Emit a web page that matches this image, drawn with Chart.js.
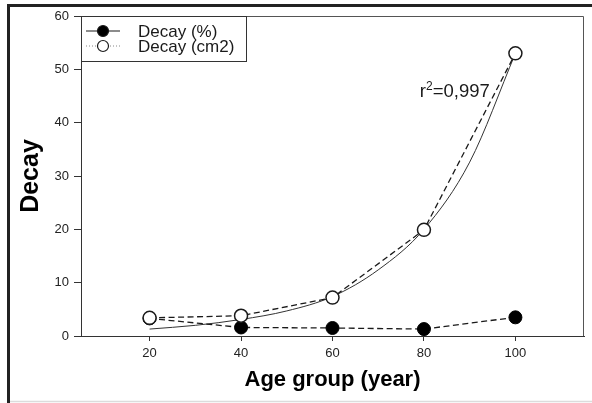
<!DOCTYPE html>
<html>
<head>
<meta charset="utf-8">
<title>Decay by age group</title>
<script src="https://cdn.jsdelivr.net/npm/chart.js@4.4.1/dist/chart.umd.min.js"></script>
<style>
  html, body { margin: 0; padding: 0; background: #fff; }
  #wrap { width: 592px; height: 403px; }
</style>
</head>
<body>
<div id="wrap"><canvas id="c" width="592" height="403"></canvas></div>
<script>
// Age groups (years)
const ageGroups = [20, 40, 60, 80, 100];
// Decay expressed as percentage
const decayPercent = [3.3, 1.6, 1.5, 1.3, 3.5];
// Decay expressed as area (cm2)
const decayArea = [3.4, 3.8, 7.2, 19.9, 53.0];
// Fitted regression curve through the area series
const fitAges = [20, 30, 40, 50, 60, 70, 80, 90, 100];
const fitValues = [1.3, 2.0, 3.1, 4.7, 7.4, 12.4, 20.0, 32.6, 53.0];
const fitLabel = 'r²=0,997';
// Axis ticks
const xTicks = [20, 40, 60, 80, 100];
const yTicks = [0, 10, 20, 30, 40, 50, 60];

const toPoints = (xs, ys) => xs.map((x, i) => ({ x: x, y: ys[i] }));

const INK = '#1a1a1a';
const FONT = "'Liberation Sans', Arial, Helvetica, sans-serif";

// Outer frame, plot box, legend box and the r² annotation
const decorations = {
  id: 'decorations',
  beforeDraw(chart) {
    const ctx = chart.ctx;
    ctx.save();
    ctx.fillStyle = '#fff';
    ctx.fillRect(0, 0, chart.width, chart.height);
    // outer frame
    ctx.strokeStyle = '#222';
    ctx.lineWidth = 3;
    ctx.beginPath();
    ctx.moveTo(8.5, 403);
    ctx.lineTo(8.5, 5.5);
    ctx.lineTo(592, 5.5);
    ctx.stroke();
    ctx.strokeStyle = '#dcdcdc';
    ctx.lineWidth = 1.5;
    ctx.beginPath();
    ctx.moveTo(10, 401.5);
    ctx.lineTo(592, 401.5);
    ctx.stroke();
    ctx.restore();
  },
  afterDraw(chart) {
    const ctx = chart.ctx;
    const a = chart.chartArea;
    ctx.save();
    // top and right sides of the plot box
    ctx.strokeStyle = '#555';
    ctx.lineWidth = 1;
    ctx.beginPath();
    ctx.moveTo(a.left, a.top + 0.5);
    ctx.lineTo(a.right - 0.5, a.top + 0.5);
    ctx.lineTo(a.right - 0.5, a.bottom);
    ctx.stroke();

    // legend
    const lx = a.left, ly = a.top, lw = 166, lh = 46;
    ctx.fillStyle = '#fff';
    ctx.fillRect(lx, ly, lw, lh);
    ctx.strokeStyle = '#333';
    ctx.strokeRect(lx + 0.5, ly + 0.5, lw - 1, lh - 1);
    const rows = [
      { ds: chart.data.datasets[1], y: ly + 15, dash: [], lineColor: INK, lw: 1.2 },
      { ds: chart.data.datasets[0], y: ly + 30, dash: [1, 2], lineColor: '#888', lw: 1 }
    ];
    rows.forEach(r => {
      ctx.setLineDash(r.dash);
      ctx.strokeStyle = r.lineColor;
      ctx.lineWidth = r.lw;
      ctx.beginPath();
      ctx.moveTo(lx + 5, r.y);
      ctx.lineTo(lx + 39, r.y);
      ctx.stroke();
      ctx.setLineDash([]);
      ctx.beginPath();
      ctx.arc(lx + 22, r.y, 5.5, 0, Math.PI * 2);
      ctx.fillStyle = r.ds.pointBackgroundColor;
      ctx.fill();
      ctx.strokeStyle = INK;
      ctx.lineWidth = 1.2;
      ctx.stroke();
      ctx.fillStyle = INK;
      ctx.font = '17px ' + FONT;
      ctx.textBaseline = 'middle';
      ctx.textAlign = 'left';
      ctx.fillText(r.ds.label, lx + 57, r.y + 1.5);
    });

    // r² annotation next to the fitted curve
    const xs = chart.scales.x, ys = chart.scales.y;
    let tx = xs.getPixelForValue(79.1);
    const ty = ys.getPixelForValue(45.7);
    ctx.fillStyle = INK;
    ctx.textBaseline = 'middle';
    ctx.textAlign = 'left';
    ctx.font = '18.5px ' + FONT;
    ctx.fillText('r', tx, ty);
    tx += ctx.measureText('r').width;
    ctx.font = '12px ' + FONT;
    ctx.fillText('2', tx, ty - 6);
    tx += ctx.measureText('2').width;
    ctx.font = '18.5px ' + FONT;
    ctx.fillText(fitLabel.slice(2), tx, ty);
    ctx.restore();
  }
};

new Chart(document.getElementById('c'), {
  type: 'line',
  data: {
    datasets: [
      {
        label: 'Decay (cm2)',
        data: toPoints(ageGroups, decayArea),
        borderColor: INK,
        borderWidth: 1.3,
        borderDash: [6, 3.5],
        pointRadius: 6.5,
        pointBorderWidth: 1.5,
        pointBackgroundColor: '#ffffff',
        pointBorderColor: INK,
        fill: false,
        tension: 0,
        order: 0
      },
      {
        label: 'Decay (%)',
        data: toPoints(ageGroups, decayPercent),
        borderColor: INK,
        borderWidth: 1.3,
        borderDash: [6, 3.5],
        pointRadius: 6.5,
        pointBorderWidth: 1,
        pointBackgroundColor: '#000000',
        pointBorderColor: '#000000',
        fill: false,
        tension: 0,
        order: 1
      },
      {
        label: 'Fit',
        data: toPoints(fitAges, fitValues),
        borderColor: '#333',
        borderWidth: 1,
        pointRadius: 0,
        fill: false,
        cubicInterpolationMode: 'monotone',
        order: 2
      }
    ]
  },
  options: {
    responsive: false,
    animation: false,
    events: [],
    layout: { padding: { left: 0, right: 7, top: 16, bottom: 0 } },
    plugins: {
      legend: { display: false },
      tooltip: { enabled: false }
    },
    scales: {
      x: {
        type: 'linear',
        min: 5,
        max: 115,
        afterFit(s) { s.height = 67; },
        afterBuildTicks(s) { s.ticks = xTicks.map(v => ({ value: v })); },
        grid: { drawOnChartArea: false, drawTicks: true, tickLength: 5, color: '#333' },
        border: { display: true, color: '#333', width: 1 },
        ticks: { padding: 5, color: '#222', font: { family: FONT, size: 13 }, maxRotation: 0 },
        title: {
          display: true,
          text: 'Age group (year)',
          color: '#000',
          font: { family: FONT, size: 22, weight: 'bold', lineHeight: 1 },
          padding: { top: 0, bottom: 12 }
        }
      },
      y: {
        min: 0,
        max: 60,
        afterFit(s) { s.width = 81; },
        afterBuildTicks(s) { s.ticks = yTicks.map(v => ({ value: v })); },
        grid: { drawOnChartArea: false, drawTicks: true, tickLength: 7, color: '#333' },
        border: { display: true, color: '#333', width: 1 },
        ticks: { padding: 5, color: '#222', font: { family: FONT, size: 13 } },
        title: {
          display: true,
          text: 'Decay',
          color: '#000',
          font: { family: FONT, size: 25, weight: 'bold', lineHeight: 1 },
          padding: { top: 19, bottom: 0 }
        }
      }
    }
  },
  plugins: [decorations]
});
</script>
</body>
</html>
